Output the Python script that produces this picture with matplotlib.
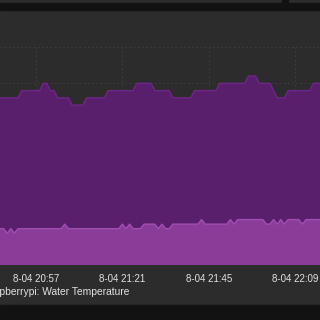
import numpy as np
import matplotlib
matplotlib.use("Agg")
import matplotlib.pyplot as plt
from matplotlib.patches import Rectangle

# minutes relative to 20:57, one sample per minute
minutes = list(range(-10, 80))

# upper series
upper = ([46] * 6 + [48] * 6 + [50] * 2 + [48] * 2 + [46] * 4 + [44] * 4 +
         [46] * 6 + [48] * 8 + [50] * 5 + [48] * 5 + [46] * 6 + [48] * 7 +
         [50] * 8 + [52] * 3 + [50] * 4 + [48] * 1 + [46] * 3 + [48] * 7 + [50] * 3)

# lower series: water temperature
lower = ([10, 10, 8.75, 10, 8.75] + [10] * 13 + [11.25] + [10] * 15 +
         [11.25, 10, 11.25, 10, 10, 10] + [11.25] * 4 + [10, 11.25, 10, 10] +
         [11.25] * 8 + [12.5] + [11.25] * 7 + [12.5, 11.25] + [12.5] * 8 +
         [11.25, 11.25, 12.5, 11.25, 12.5, 11.25] + [12.5] * 4 + [11.25] + [12.5] * 5)

tick_pos = [0, 24, 48, 72]
tick_labels = ["8-04 20:57", "8-04 21:21", "8-04 21:45", "8-04 22:09"]
legend_label = "raspberrypi: Water Temperature"

panel = "#2c2c2c"
dark = "#121212"
fig = plt.figure(figsize=(3.2, 3.2), dpi=100, facecolor=panel)

# dark separators of the dashboard
fig.patches.append(Rectangle((0, 1 - 10 / 320), 1, 7 / 320, transform=fig.transFigure,
                             color=dark, zorder=0))
fig.patches.append(Rectangle((282 / 320, 1 - 3 / 320), 6 / 320, 3 / 320,
                             transform=fig.transFigure, color=dark, zorder=0))
fig.patches.append(Rectangle((0, 0), 1, 15 / 320, transform=fig.transFigure,
                             color=dark, zorder=0))

ax = fig.add_axes([0, 1 - 265 / 320, 1, 218 / 320])
ax.set_facecolor(panel)
x = np.array(minutes)
ax.fill_between(x, 0, upper, color="#591f6c", lw=0, zorder=2)
ax.plot(x, upper, color="#6e2688", lw=1, zorder=3)
ax.fill_between(x, 0, lower, color="#8a3d98", lw=0, zorder=4)
ax.plot(x, lower, color="#a24db3", lw=1, zorder=5)

ax.set_xlim(-10, -10 + 320 / 3.6)
ax.set_ylim(0, 60)
ax.set_yticks([10, 20, 30, 40, 50, 60])
ax.set_xticks(tick_pos)
ax.set_xticklabels(tick_labels, fontsize=7, family="Liberation Sans", color="#e2e2e2")
ax.tick_params(axis="x", length=0, pad=6.3)
ax.tick_params(axis="y", left=False, labelleft=False)
for s in ax.spines.values():
    s.set_visible(False)
ax.grid(True, color="#5a5a5a", lw=0.6, ls=(0, (2, 3)))
for gl in ax.get_xgridlines() + ax.get_ygridlines():
    gl.set_zorder(6)
    gl.set_alpha(0.45)

fig.text(129 / 320, 1 - 292 / 320, legend_label, ha="right", va="center",
         fontsize=7.4, family="Liberation Sans", color="#e2e2e2")

fig.savefig("out.png", dpi=100, facecolor=panel)
